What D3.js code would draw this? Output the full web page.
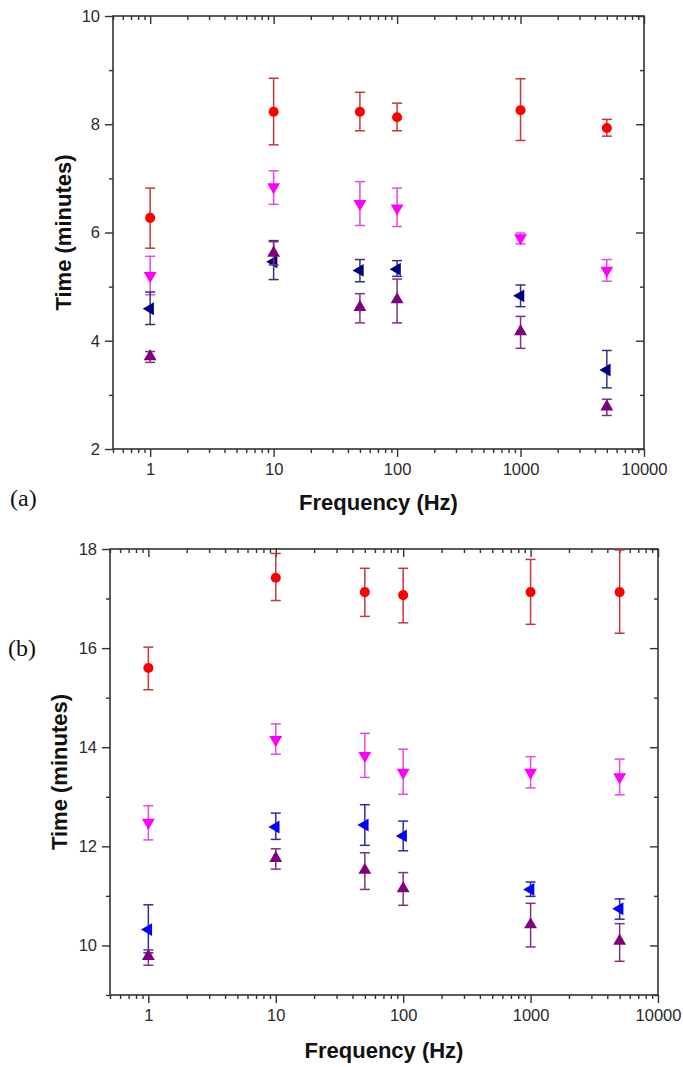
<html>
  <meta charset="utf-8">
  <head>
  <style>
    body { margin: 0; background: #fff; }
    svg text { font-family: "Liberation Sans", Arial, sans-serif; }
  </style>
  </head>
  <body>
    <div id="chart"></div>
    <script src="https://d3js.org/d3.v7.min.js"></script>
    <script>
    'use strict';

    // frequencies (Hz), shared by both panels
    var freqs = [1, 10, 50, 100, 1000, 5000];
    var xMajor = [1, 10, 100, 1000, 10000];

    // panel (a)
    var aRed = [6.27, 8.23, 8.23, 8.13, 8.26, 7.93];
    var aRedHi = [6.82, 8.85, 8.59, 8.39, 8.84, 8.09];
    var aRedLo = [5.71, 7.62, 7.88, 7.88, 7.70, 7.78];
    var aMag = [5.20, 6.84, 6.53, 6.45, 5.90, 5.30];
    var aMagHi = [5.56, 7.14, 6.94, 6.82, 5.99, 5.50];
    var aMagLo = [4.85, 6.52, 6.13, 6.11, 5.79, 5.10];
    var aNavy = [4.59, 5.46, 5.30, 5.32, 4.83, 3.46];
    var aNavyHi = [4.90, 5.85, 5.50, 5.48, 5.03, 3.82];
    var aNavyLo = [4.30, 5.13, 5.09, 5.19, 4.63, 3.13];
    var aPurp = [3.71, 5.62, 4.62, 4.76, 4.17, 2.78];
    var aPurpHi = [3.80, 5.83, 4.87, 5.14, 4.45, 2.92];
    var aPurpLo = [3.60, 5.40, 4.33, 4.33, 3.86, 2.62];
    var aYMajor = [2, 4, 6, 8, 10];
    var aYMinor = [3, 5, 7, 9];

    // panel (b)
    var bRed = [15.60, 17.42, 17.13, 17.07, 17.13, 17.13];
    var bRedHi = [16.02, 17.91, 17.61, 17.61, 17.79, 17.98];
    var bRedLo = [15.16, 16.96, 16.64, 16.51, 16.48, 16.30];
    var bMag = [12.48, 14.15, 13.83, 13.49, 13.49, 13.40];
    var bMagHi = [12.82, 14.47, 14.28, 13.96, 13.81, 13.76];
    var bMagLo = [12.13, 13.86, 13.39, 13.05, 13.18, 13.04];
    var bBlue = [10.32, 12.39, 12.43, 12.21, 11.13, 10.74];
    var bBlueHi = [10.82, 12.67, 12.84, 12.51, 11.28, 10.94];
    var bBlueLo = [9.85, 12.14, 12.02, 11.91, 10.99, 10.53];
    var bPurp = [9.78, 11.76, 11.52, 11.15, 10.42, 10.09];
    var bPurpHi = [9.91, 11.95, 11.87, 11.47, 10.85, 10.44];
    var bPurpLo = [9.60, 11.54, 11.13, 10.81, 9.97, 9.68];
    var bYMajor = [10, 12, 14, 16, 18];
    var bYMinor = [9, 11, 13, 15, 17];

    var W = 683, H = 1067;
    var svg = d3.select('#chart').append('svg')
      .attr('width', W).attr('height', H);

    // minor log ticks 0.6 .. 9000
    var xMinor = [];
    [0.1, 1, 10, 100, 1000].forEach(function (d) {
      for (var k = 2; k <= 9; k++) {
        var v = +(d * k).toPrecision(3);
        if (v >= 0.5 && v <= 10000 && xMajor.indexOf(v) < 0) xMinor.push(v);
      }
    });

    function panel(o) {
      var x = d3.scaleLog().domain([0.5, 10000]).range([o.left, o.right]);
      var y = d3.scaleLinear().domain(o.yDomain).range([o.bottom, o.top]);
      var g = svg.append('g');
      var axisCol = '#333';

      // frame
      g.append('rect')
        .attr('x', o.left).attr('y', o.top)
        .attr('width', o.right - o.left).attr('height', o.bottom - o.top)
        .attr('fill', 'none').attr('stroke', axisCol).attr('stroke-width', 1.6);

      function styleAxis(sel) {
        sel.select('.domain').remove();
        sel.selectAll('line').attr('stroke', axisCol).attr('stroke-width', 1.4);
        sel.selectAll('text')
          .attr('fill', '#2a2a2a')
          .style('font-size', '16.5px');
      }

      // bottom
      g.append('g').attr('transform', 'translate(0,' + o.bottom + ')')
        .call(d3.axisBottom(x).tickValues(xMajor).tickFormat(d3.format('d'))
          .tickSize(8).tickPadding(6))
        .call(styleAxis);
      g.append('g').attr('transform', 'translate(0,' + o.bottom + ')')
        .call(d3.axisBottom(x).tickValues(xMinor).tickFormat('').tickSize(4))
        .call(styleAxis);
      // top (mirror, inward)
      g.append('g').attr('transform', 'translate(0,' + o.top + ')')
        .call(d3.axisTop(x).tickValues(xMajor).tickFormat('').tickSize(-8))
        .call(styleAxis);
      g.append('g').attr('transform', 'translate(0,' + o.top + ')')
        .call(d3.axisTop(x).tickValues(xMinor).tickFormat('').tickSize(-4))
        .call(styleAxis);
      // left
      g.append('g').attr('transform', 'translate(' + o.left + ',0)')
        .call(d3.axisLeft(y).tickValues(o.yMajor).tickFormat(d3.format('d'))
          .tickSize(8).tickPadding(5))
        .call(styleAxis);
      g.append('g').attr('transform', 'translate(' + o.left + ',0)')
        .call(d3.axisLeft(y).tickValues(o.yMinor).tickFormat('').tickSize(4))
        .call(styleAxis);
      // right (mirror, inward)
      g.append('g').attr('transform', 'translate(' + o.right + ',0)')
        .call(d3.axisRight(y).tickValues(o.yMajor).tickFormat('').tickSize(-8))
        .call(styleAxis);
      g.append('g').attr('transform', 'translate(' + o.right + ',0)')
        .call(d3.axisRight(y).tickValues(o.yMinor).tickFormat('').tickSize(-4))
        .call(styleAxis);

      // axis titles
      g.append('text')
        .attr('x', (o.left + o.right) / 2).attr('y', o.xTitleY)
        .attr('text-anchor', 'middle')
        .style('font-size', '22px').style('font-weight', 'bold')
        .attr('fill', '#111')
        .text('Frequency (Hz)');
      g.append('text')
        .attr('transform', 'translate(' + o.yTitleX + ',' + (o.top + o.bottom) / 2 + ') rotate(-90)')
        .attr('text-anchor', 'middle')
        .style('font-size', '22px').style('font-weight', 'bold')
        .attr('fill', '#111')
        .text('Time (minutes)');

      // panel letter
      g.append('text')
        .attr('x', o.labelX).attr('y', o.labelY)
        .style('font-family', '"Liberation Serif", "Times New Roman", serif')
        .style('font-size', '24px')
        .attr('fill', '#111')
        .text(o.label);

      // series
      o.series.forEach(function (s) {
        var pts = freqs.map(function (f, i) {
          return { f: f, v: s.v[i], hi: s.hi[i], lo: s.lo[i] };
        });
        var sg = g.append('g');
        var eb = sg.selectAll('.eb').data(pts).enter().append('g')
          .attr('stroke', s.bar).attr('stroke-width', 1.5).attr('fill', 'none');
        eb.append('line')
          .attr('x1', function (d) { return x(d.f); })
          .attr('x2', function (d) { return x(d.f); })
          .attr('y1', function (d) { return y(d.hi); })
          .attr('y2', function (d) { return y(d.lo); });
        eb.append('line')
          .attr('x1', function (d) { return x(d.f) - 5; })
          .attr('x2', function (d) { return x(d.f) + 5; })
          .attr('y1', function (d) { return y(d.hi); })
          .attr('y2', function (d) { return y(d.hi); });
        eb.append('line')
          .attr('x1', function (d) { return x(d.f) - 5; })
          .attr('x2', function (d) { return x(d.f) + 5; })
          .attr('y1', function (d) { return y(d.lo); })
          .attr('y2', function (d) { return y(d.lo); });

        var sym = d3.symbol().type(s.shape === 'circle' ? d3.symbolCircle : d3.symbolTriangle)
          .size(s.shape === 'circle' ? 80 : 72);
        sg.selectAll('.pt').data(pts).enter().append('path')
          .attr('d', sym)
          .attr('fill', s.fill)
          .attr('transform', function (d) {
            return 'translate(' + x(d.f) + ',' + y(d.v) + ') rotate(' + s.rot + ')';
          });
      });
    }

    panel({
      left: 113, right: 644, top: 16, bottom: 449,
      yDomain: [2, 10], yMajor: aYMajor, yMinor: aYMinor,
      xTitleY: 510, yTitleX: 71,
      label: '(a)', labelX: 10, labelY: 506,
      series: [
        { v: aRed, hi: aRedHi, lo: aRedLo, fill: '#ff0000', bar: '#c8373a', shape: 'circle', rot: 0 },
        { v: aMag, hi: aMagHi, lo: aMagLo, fill: '#ff00ff', bar: '#e24ae2', shape: 'tri', rot: 180 },
        { v: aNavy, hi: aNavyHi, lo: aNavyLo, fill: '#000080', bar: '#34347c', shape: 'tri', rot: -90 },
        { v: aPurp, hi: aPurpHi, lo: aPurpLo, fill: '#800080', bar: '#7c357c', shape: 'tri', rot: 0 }
      ]
    });

    panel({
      left: 110, right: 658, top: 549, bottom: 995,
      yDomain: [9, 18], yMajor: bYMajor, yMinor: bYMinor,
      xTitleY: 1058, yTitleX: 67,
      label: '(b)', labelX: 8, labelY: 656,
      series: [
        { v: bRed, hi: bRedHi, lo: bRedLo, fill: '#ff0000', bar: '#c8373a', shape: 'circle', rot: 0 },
        { v: bMag, hi: bMagHi, lo: bMagLo, fill: '#ff00ff', bar: '#e24ae2', shape: 'tri', rot: 180 },
        { v: bBlue, hi: bBlueHi, lo: bBlueLo, fill: '#0000ff', bar: '#2a2ab0', shape: 'tri', rot: -90 },
        { v: bPurp, hi: bPurpHi, lo: bPurpLo, fill: '#800080', bar: '#7c357c', shape: 'tri', rot: 0 }
      ]
    });
    </script>
  </body>
</html>
